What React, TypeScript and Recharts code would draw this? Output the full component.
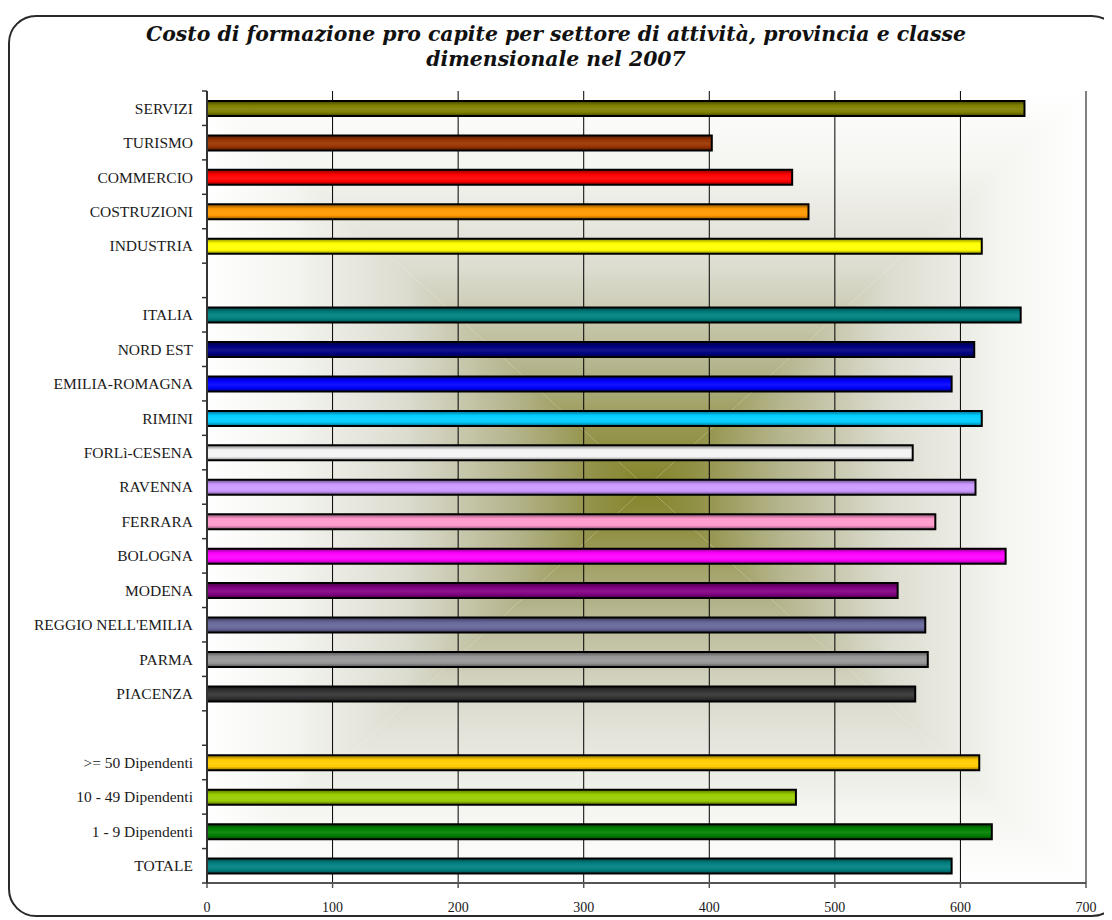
import React from 'react';
import { BarChart, Bar, XAxis, YAxis, CartesianGrid, Cell } from 'recharts';

const categories: string[] = [
  'SERVIZI', 'TURISMO', 'COMMERCIO', 'COSTRUZIONI', 'INDUSTRIA', ' ',
  'ITALIA', 'NORD EST', 'EMILIA-ROMAGNA', 'RIMINI', 'FORLì-CESENA', 'RAVENNA',
  'FERRARA', 'BOLOGNA', 'MODENA', "REGGIO NELL'EMILIA", 'PARMA', 'PIACENZA', '  ',
  '>= 50 Dipendenti', '10 - 49 Dipendenti', '1 - 9 Dipendenti', 'TOTALE',
];

const values: (number | null)[] = [
  651, 402, 466, 479, 617, null,
  648, 611, 593, 617, 562, 612,
  580, 636, 550, 572, 574, 564, null,
  615, 469, 625, 593,
];

const colors: string[] = [
  '#808000', '#993300', '#FF0000', '#FF9900', '#FFFF00', '#ffffff',
  '#008080', '#000080', '#0000FF', '#00CCFF', '#F4F4F4', '#CC99FF',
  '#FF99CC', '#FF00FF', '#800080', '#666699', '#969696', '#333333', '#ffffff',
  '#FFCC00', '#99CC00', '#008000', '#008080',
];

const xTicks: number[] = [0, 100, 200, 300, 400, 500, 600, 700];

const titleLines: string[] = [
  'Costo di formazione pro capite per settore di attività, provincia e classe',
  'dimensionale nel 2007',
];

const data = categories.map((name, i) => ({ name, value: values[i], color: colors[i] }));

const CHART_W = 1104;
const CHART_H = 912;
const MARGIN = { top: 83, right: 26, bottom: 7, left: 0 };
const Y_AXIS_W = 199;
const X_AXIS_H = 30;
const PLOT_H = CHART_H - MARGIN.top - MARGIN.bottom - X_AXIS_H;

function shade(hex: string, f: number): string {
  const n = parseInt(hex.slice(1), 16);
  let r = (n >> 16) & 255, g = (n >> 8) & 255, b = n & 255;
  if (f < 0) {
    r = Math.round(r * (1 + f)); g = Math.round(g * (1 + f)); b = Math.round(b * (1 + f));
  } else {
    r = Math.round(r + (255 - r) * f); g = Math.round(g + (255 - g) * f); b = Math.round(b + (255 - b) * f);
  }
  return `rgb(${r},${g},${b})`;
}

const YTick = (props: any) => {
  const { y, payload, index } = props;
  const axisX = MARGIN.left + Y_AXIS_W;
  const band = PLOT_H / categories.length;
  return (
    <g>
      <line x1={axisX - 5} x2={axisX} y1={y - band / 2} y2={y - band / 2} stroke="#333" strokeWidth={1.5} />
      {index === categories.length - 1 && (
        <line x1={axisX - 5} x2={axisX} y1={y + band / 2} y2={y + band / 2} stroke="#333" strokeWidth={1.5} />
      )}
      <text
        x={axisX - 14}
        y={y}
        dy="0.35em"
        textAnchor="end"
        fontFamily="'Liberation Serif', serif"
        fontSize={15.5}
        fill="#1a1a1a"
      >
        {String(payload.value).trim()}
      </text>
    </g>
  );
};

const bgStops = [
  { o: 0, c: '#ffffff' },
  { o: 0.2, c: '#f4f4f0' },
  { o: 0.45, c: '#dcdcd0' },
  { o: 0.7, c: '#b4b48c' },
  { o: 0.88, c: '#929248' },
  { o: 1, c: '#84842a' },
];

const BgGrad = ({ id, x1, y1, x2, y2 }: any) => (
  <linearGradient id={id} x1={x1} y1={y1} x2={x2} y2={y2}>
    {bgStops.map((s) => (
      <stop key={s.o} offset={s.o} stopColor={s.c} />
    ))}
  </linearGradient>
);

export default function App() {
  return (
    <div style={{ position: 'relative', width: CHART_W, height: CHART_H, background: '#fff' }}>
      <div
        style={{
          position: 'absolute',
          left: 0,
          top: 7,
          width: 1112,
          height: 902,
          border: '2px solid #2a2a2a',
          borderRadius: 28,
          boxSizing: 'border-box',
        }}
      />
      <div
        style={{
          position: 'absolute',
          left: 0,
          top: 14,
          width: 1096,
          textAlign: 'center',
          fontFamily: "'DejaVu Serif', serif",
          fontStyle: 'italic',
          fontWeight: 'bold',
          fontSize: 20.4,
          lineHeight: '25px',
          color: '#111',
        }}
      >
        {titleLines.map((t) => (
          <div key={t}>{t}</div>
        ))}
      </div>
      <div style={{ position: 'absolute', left: 0, top: 0 }}>
        <BarChart
          width={CHART_W}
          height={CHART_H}
          data={data}
          layout="vertical"
          margin={MARGIN}
          barCategoryGap={0}
        >
          <defs>
            <pattern id="bgpat" patternUnits="objectBoundingBox" patternContentUnits="objectBoundingBox" width="1" height="1">
              <polygon points="0,0 1,0 0.5,0.5" fill="url(#bgT)" />
              <polygon points="0,1 1,1 0.5,0.5" fill="url(#bgB)" />
              <polygon points="0,0 0,1 0.5,0.5" fill="url(#bgL)" />
              <polygon points="1,0 1,1 0.5,0.5" fill="url(#bgR)" />
            </pattern>
            <BgGrad id="bgT" x1="0" y1="0" x2="0" y2="1" />
            <BgGrad id="bgB" x1="0" y1="1" x2="0" y2="0" />
            <BgGrad id="bgL" x1="0" y1="0" x2="1" y2="0" />
            <BgGrad id="bgR" x1="1" y1="0" x2="0" y2="0" />
            {colors.map((c, i) => (
              <linearGradient key={i} id={`bar-${i}`} x1="0" y1="0" x2="0" y2="1">
                <stop offset="0" stopColor={shade(c, -0.45)} />
                <stop offset="0.3" stopColor={c} />
                <stop offset="0.55" stopColor={shade(c, 0.08)} />
                <stop offset="0.75" stopColor={c} />
                <stop offset="1" stopColor={shade(c, -0.45)} />
              </linearGradient>
            ))}
          </defs>
          <CartesianGrid
            horizontal={false}
            vertical
            stroke="#000"
            strokeWidth={1}
            fill="url(#bgpat)"
            fillOpacity={1}
          />
          <XAxis
            type="number"
            dataKey="value"
            domain={[0, 700]}
            ticks={xTicks}
            interval={0}
            height={X_AXIS_H}
            axisLine={{ stroke: '#555', strokeWidth: 2 }}
            tickLine={{ stroke: '#555', strokeWidth: 1.5 }}
            tickSize={5}
            tickMargin={14}
            tick={{ fontFamily: "'Liberation Serif', serif", fontSize: 14, fill: '#1a1a1a' }}
          />
          <XAxis
            xAxisId="top"
            orientation="top"
            type="number"
            domain={[0, 700]}
            height={0}
            tick={false}
            tickLine={false}
            axisLine={{ stroke: '#8a8a8a', strokeWidth: 2 }}
          />
          <YAxis
            type="category"
            dataKey="name"
            width={Y_AXIS_W}
            interval={0}
            tickLine={false}
            axisLine={{ stroke: '#333', strokeWidth: 2 }}
            tick={<YTick />}
          />
          <YAxis
            yAxisId="right"
            orientation="right"
            type="category"
            dataKey="name"
            width={0}
            tick={false}
            tickLine={false}
            axisLine={{ stroke: '#8a8a8a', strokeWidth: 2 }}
          />
          <Bar dataKey="value" barSize={15} stroke="#000" strokeWidth={2} isAnimationActive={false}>
            {data.map((d, i) => (
              <Cell key={i} fill={`url(#bar-${i})`} />
            ))}
          </Bar>
        </BarChart>
      </div>
    </div>
  );
}
